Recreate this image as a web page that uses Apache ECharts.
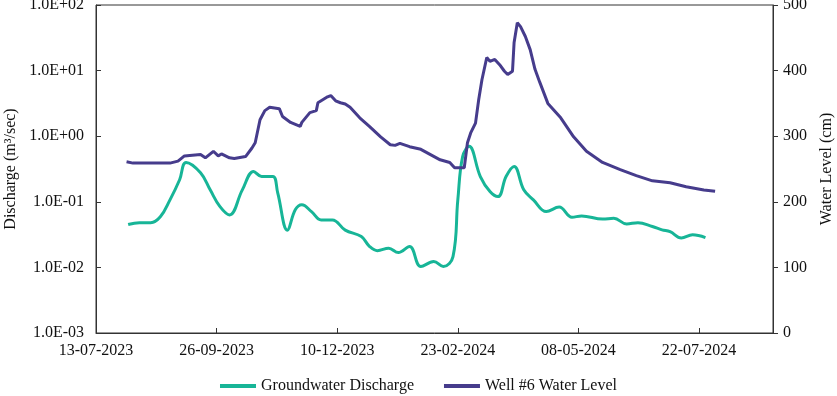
<!DOCTYPE html>
<html>
<head>
<meta charset="utf-8">
<script src="https://cdn.jsdelivr.net/npm/echarts@6/dist/echarts.min.js"></script>
<style>
  html, body { margin: 0; padding: 0; background: #fff; }
  #chart { width: 837px; height: 396px; }
</style>
</head>
<body>
<div id="chart"></div>
<script>
// x values are days after 13-07-2023
var baseDate = Date.UTC(2023, 6, 13);

var dischargeDays = [20, 27, 34, 40, 46, 52, 56, 65, 71, 77, 83, 91, 98, 103, 110, 113, 119, 124, 128, 134, 140, 147, 155, 165, 170, 175, 182, 188, 195, 202, 210, 216, 222, 225, 228, 232, 239, 245, 250, 255, 260, 266, 272, 280, 288, 296, 302, 315, 322, 330, 337, 346, 352, 357, 364, 371, 379];
var dischargeValues = [0.045, 0.048, 0.048, 0.059, 0.107, 0.217, 0.398, 0.277, 0.152, 0.085, 0.063, 0.152, 0.29, 0.243, 0.243, 0.137, 0.037, 0.076, 0.09, 0.071, 0.053, 0.053, 0.037, 0.0295, 0.021, 0.018, 0.0196, 0.0168, 0.0208, 0.0103, 0.0123, 0.0103, 0.0146, 0.107, 0.49, 0.70, 0.243, 0.143, 0.12, 0.243, 0.346, 0.152, 0.107, 0.071, 0.083, 0.058, 0.061, 0.0545, 0.056, 0.046, 0.048, 0.042, 0.0374, 0.035, 0.028, 0.0314, 0.0285];

var levelDays = [19, 23, 34, 46, 51, 55, 65, 66, 68, 73, 76, 78, 83, 86, 93, 97, 99, 102, 105, 108, 114, 116, 121, 127, 128, 133, 137, 138, 144, 146, 147, 149, 152, 155, 158, 164, 170, 177, 183, 186, 189, 195, 202, 208, 214, 220, 223, 229, 231, 233, 236, 238, 240, 243, 245, 248, 251, 254, 256, 259, 260, 262, 264, 267, 270, 273, 276, 281, 289, 297, 305, 315, 326, 336, 346, 357, 367, 378, 385];
var levelValues = [261, 259, 259, 259, 262, 270, 272, 275, 267, 277, 270, 273, 267, 266, 269, 282, 290, 325, 339, 344, 342, 330, 321, 315, 321, 336, 339, 351, 360, 362, 359, 354, 351, 349, 344, 328, 315, 299, 287, 286, 289, 284, 280, 272, 264, 260, 252, 252, 290, 305, 320, 356, 386, 420, 414, 417, 409, 399, 394, 399, 443, 473, 467, 452, 432, 402, 382, 350, 328, 299, 277, 260, 249, 240, 232, 229, 223, 218, 216];

var xTickStep = 75;
var xMax = 421;

function toPairs(xs, ys) {
  var out = [];
  for (var i = 0; i < xs.length; i++) out.push([xs[i], ys[i]]);
  return out;
}

function dayLabel(v) {
  if (v % xTickStep !== 0) return '';
  var d = new Date(baseDate + v * 86400000);
  var dd = String(d.getUTCDate()).padStart(2, '0');
  var mm = String(d.getUTCMonth() + 1).padStart(2, '0');
  return dd + '-' + mm + '-' + d.getUTCFullYear();
}

function sciLabel(v) {
  var e = Math.round(Math.log10(v));
  var a = Math.abs(e);
  return '1.0E' + (e < 0 ? '-' : '+') + (a < 10 ? '0' + a : a);
}

var font = 'Liberation Serif';
var txt = { color: '#111', fontFamily: font, fontSize: 16 };

var chart = echarts.init(document.getElementById('chart'));
chart.setOption({
  animation: false,
  grid: {
    left: 96, right: 64, top: 5, bottom: 63,
    outerBoundsMode: 'none',
    containLabel: false,
    show: true, borderColor: '#333', borderWidth: 1
  },
  legend: {
    bottom: -3,
    left: 'center',
    itemGap: 30,
    itemWidth: 36,
    itemHeight: 4,
    textStyle: txt,
    data: [
      { name: 'Groundwater Discharge', icon: 'rect' },
      { name: 'Well #6 Water Level', icon: 'rect' }
    ]
  },
  xAxis: {
    type: 'value',
    min: 0,
    max: xMax,
    interval: xTickStep,
    splitLine: { show: false },
    axisLine: { lineStyle: { color: '#333' } },
    axisTick: { inside: true, length: 5, lineStyle: { color: '#333' } },
    axisLabel: Object.assign({ formatter: dayLabel, margin: 10, showMaxLabel: false }, txt)
  },
  yAxis: [
    {
      type: 'log',
      logBase: 10,
      min: 0.001,
      max: 100,
      name: 'Discharge (m³/sec)',
      nameLocation: 'middle',
      nameGap: 77,
      nameTextStyle: txt,
      splitLine: { show: false },
      minorTick: { show: false },
      axisLine: { show: true, lineStyle: { color: '#333' } },
      axisTick: { inside: true, length: 5, lineStyle: { color: '#333' } },
      axisLabel: Object.assign({ formatter: sciLabel, margin: 12 }, txt)
    },
    {
      type: 'value',
      min: 0,
      max: 500,
      interval: 100,
      name: 'Water Level (cm)',
      nameLocation: 'middle',
      nameGap: 46,
      nameRotate: 90,
      nameTextStyle: txt,
      splitLine: { show: false },
      axisLine: { show: true, lineStyle: { color: '#333' } },
      axisTick: { inside: false, length: 5, lineStyle: { color: '#333' } },
      axisLabel: Object.assign({ margin: 10 }, txt)
    }
  ],
  series: [
    {
      name: 'Groundwater Discharge',
      type: 'line',
      yAxisIndex: 0,
      data: toPairs(dischargeDays, dischargeValues),
      smooth: 0.4,
      showSymbol: false,
      lineStyle: { width: 3, color: '#17b597' },
      itemStyle: { color: '#17b597' }
    },
    {
      name: 'Well #6 Water Level',
      type: 'line',
      yAxisIndex: 1,
      data: toPairs(levelDays, levelValues),
      showSymbol: false,
      lineStyle: { width: 3, color: '#463c8c' },
      itemStyle: { color: '#463c8c' }
    }
  ]
});
</script>
</body>
</html>
